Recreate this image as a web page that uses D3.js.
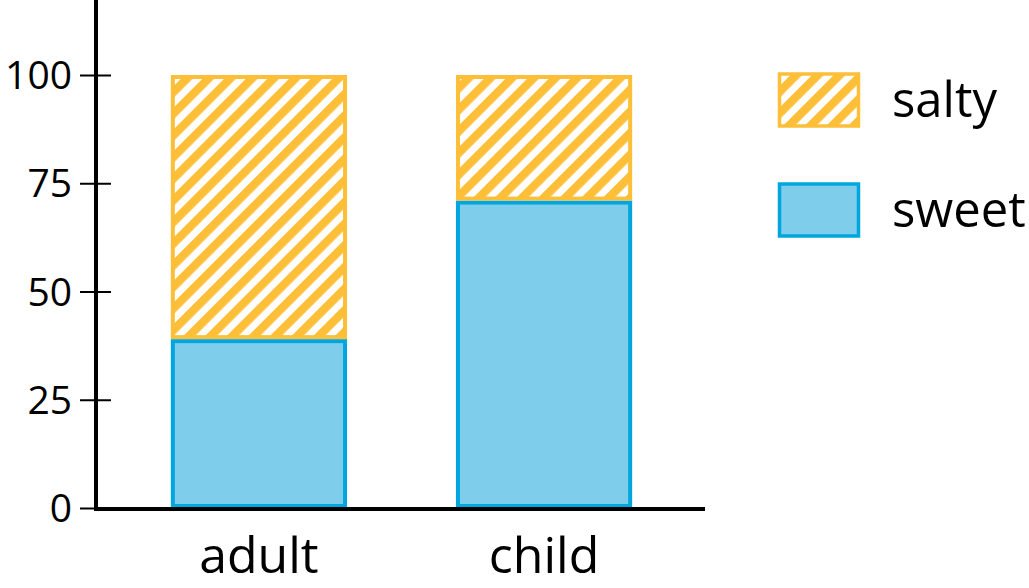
<!DOCTYPE html>
<html>
<head>
<meta charset="utf-8">
<script src="https://cdn.jsdelivr.net/npm/d3@7"></script>
<style>
  html, body { margin: 0; padding: 0; background: #fff; }
  svg text { font-family: "Open Sans", sans-serif; fill: #000; }
</style>
</head>
<body>
<div id="chart"></div>
<script>
// data
const categories = ['adult', 'child'];
const sweet = [39, 71];
const salty = [61, 29];
const yTicks = [0, 25, 50, 75, 100];
const seriesNames = ['salty', 'sweet'];

const W = 1029, H = 588;
const orange = '#fdbf38', blue = '#7dcdeb', blueStroke = '#00a6dd';

const svg = d3.select('#chart').append('svg').attr('width', W).attr('height', H);

// diagonal stripes for the salty series
const defs = svg.append('defs');
const pat = defs.append('pattern')
  .attr('id', 'hatch')
  .attr('patternUnits', 'userSpaceOnUse')
  .attr('width', 15.3).attr('height', 15.3)
  .attr('patternTransform', 'rotate(45)');
pat.append('rect').attr('width', 15.3).attr('height', 15.3).attr('fill', '#fff');
pat.append('rect').attr('width', 8.3).attr('height', 15.3).attr('fill', orange);

const x0 = 96, x1 = 705, yBase = 508;
const y = d3.scaleLinear().domain([0, 100]).range([yBase, 75]);
const x = d3.scaleBand().domain(categories).range([x0 + 1, x1 + 1]).paddingInner(0.382).paddingOuter(0.259);

const rows = categories.map((c, i) => ({ cat: c, sweet: sweet[i], salty: salty[i] }));
const stacked = d3.stack().keys(['sweet', 'salty'])(rows);

const g = svg.append('g');
stacked.forEach(layer => {
  const isSalty = layer.key === 'salty';
  g.selectAll(null).data(layer).enter().append('rect')
    .attr('x', d => x(d.data.cat) + 2)
    .attr('width', x.bandwidth() - 4)
    .attr('y', d => y(d[1]) + 2)
    .attr('height', d => y(d[0]) - y(d[1]) - 4)
    .attr('fill', isSalty ? 'url(#hatch)' : blue)
    .attr('stroke', isSalty ? orange : blueStroke)
    .attr('stroke-width', 4);
});

// y axis
const yAxis = svg.append('g').attr('transform', `translate(${x0},0)`)
  .call(d3.axisLeft(y).tickValues(yTicks).tickSize(0).tickPadding(24));
yAxis.select('.domain').remove();
yAxis.selectAll('.tick text').style('font-size', '39px').attr('dy', '0.35em');
yAxis.selectAll('.tick').append('line')
  .attr('x1', -16).attr('x2', 15).attr('stroke', '#000').attr('stroke-width', 2);
svg.append('line').attr('x1', x0).attr('x2', x0).attr('y1', 0).attr('y2', yBase + 2)
  .attr('stroke', '#000').attr('stroke-width', 4);

// x axis
svg.append('line').attr('x1', x0 - 2).attr('x2', x1).attr('y1', yBase + 1).attr('y2', yBase + 1)
  .attr('stroke', '#000').attr('stroke-width', 4);
svg.append('g').selectAll('text').data(categories).enter().append('text')
  .attr('x', d => x(d) + x.bandwidth() / 2)
  .attr('y', 573)
  .attr('text-anchor', 'middle')
  .style('font-size', '50px')
  .text(d => d);

// legend
const legend = svg.append('g');
seriesNames.forEach((s, i) => {
  const ly = 74 + i * 110;
  legend.append('rect')
    .attr('x', 779.5).attr('y', ly).attr('width', 79).attr('height', 52)
    .attr('fill', s === 'salty' ? 'url(#hatch)' : blue)
    .attr('stroke', s === 'salty' ? orange : blueStroke)
    .attr('stroke-width', 3.5);
  legend.append('text')
    .attr('x', 892).attr('y', ly + 26).attr('dy', '0.35em')
    .style('font-size', '49px')
    .text(s);
});
</script>
</body>
</html>
